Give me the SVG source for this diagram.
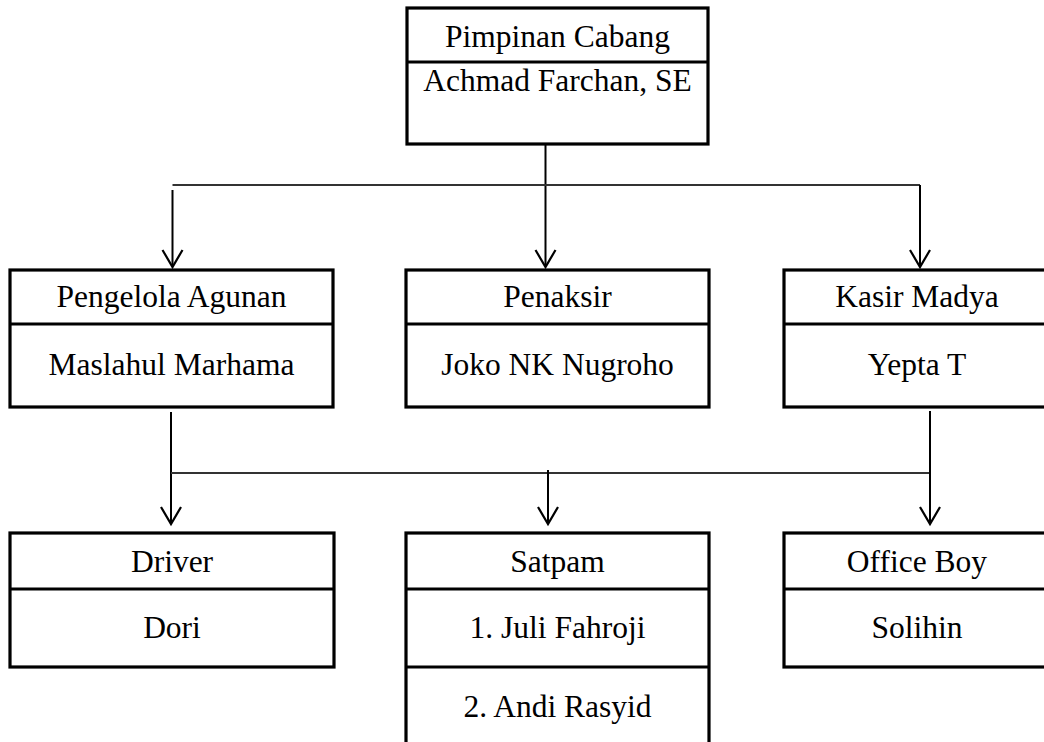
<svg xmlns="http://www.w3.org/2000/svg" width="1044" height="742" viewBox="0 0 1044 742">
<style>
.box{fill:#fff;stroke:#000;stroke-width:3.2}
.div{stroke:#000;stroke-width:3.2}
.t{font-family:"Liberation Serif","Times New Roman",serif;font-size:31.5px;fill:#000;text-anchor:middle}
.c{fill:none;stroke:#000;stroke-width:2}
.h{fill:none;stroke:#333;stroke-width:1.8}
.ah{fill:none;stroke:#000;stroke-width:2.2;stroke-linejoin:miter}
</style>
<rect width="1044" height="742" fill="#fff"/>
<g id="connectors">
<line class="c" x1="545.5" y1="140" x2="545.5" y2="266"/>
<line class="h" x1="172.5" y1="185" x2="920" y2="185"/>
<line class="c" x1="172.5" y1="190" x2="172.5" y2="266"/>
<line class="c" x1="920" y1="185" x2="920" y2="266"/>
<polyline class="ah" points="162.5,250 172.5,267 182.5,250"/>
<polyline class="ah" points="535.5,250 545.5,267 555.5,250"/>
<polyline class="ah" points="910,250 920,267 930,250"/>
<line class="c" x1="171" y1="412" x2="171" y2="523"/>
<line class="c" x1="930" y1="411" x2="930" y2="523"/>
<line class="h" x1="171" y1="473" x2="929" y2="473"/>
<line class="c" x1="548" y1="470" x2="548" y2="523"/>
<polyline class="ah" points="161,507 171,524 181,507"/>
<polyline class="ah" points="538,507 548,524 558,507"/>
<polyline class="ah" points="920,507 930,524 940,507"/>
</g>
<g id="pimpinan">
<rect class="box" x="407" y="8" width="301" height="136"/>
<line class="div" x1="407" y1="62" x2="708" y2="62"/>
<text class="t" x="557.5" y="47">Pimpinan Cabang</text>
<text class="t" x="557.5" y="91">Achmad Farchan, SE</text>
</g>
<g id="pengelola">
<rect class="box" x="10" y="270" width="323" height="137"/>
<line class="div" x1="10" y1="324" x2="333" y2="324"/>
<text class="t" x="171.5" y="307">Pengelola Agunan</text>
<text class="t" x="171.5" y="375">Maslahul Marhama</text>
</g>
<g id="penaksir">
<rect class="box" x="406" y="270" width="303" height="137"/>
<line class="div" x1="406" y1="324" x2="709" y2="324"/>
<text class="t" x="557.5" y="307">Penaksir</text>
<text class="t" x="557.5" y="375">Joko NK Nugroho</text>
</g>
<g id="kasir">
<rect class="box" x="784" y="270" width="266" height="137"/>
<line class="div" x1="784" y1="324" x2="1050" y2="324"/>
<text class="t" x="917" y="307">Kasir Madya</text>
<text class="t" x="917" y="375">Yepta T</text>
</g>
<g id="driver">
<rect class="box" x="10" y="533" width="324" height="134"/>
<line class="div" x1="10" y1="589" x2="334" y2="589"/>
<text class="t" x="172" y="572">Driver</text>
<text class="t" x="172" y="638">Dori</text>
</g>
<g id="satpam">
<rect class="box" x="406" y="533" width="303" height="220"/>
<line class="div" x1="406" y1="589" x2="709" y2="589"/>
<line class="div" x1="406" y1="667" x2="709" y2="667"/>
<text class="t" x="557.5" y="572">Satpam</text>
<text class="t" x="557.5" y="638">1. Juli Fahroji</text>
<text class="t" x="557.5" y="717">2. Andi Rasyid</text>
</g>
<g id="officeboy">
<rect class="box" x="784" y="533" width="266" height="134"/>
<line class="div" x1="784" y1="589" x2="1050" y2="589"/>
<text class="t" x="917" y="572">Office Boy</text>
<text class="t" x="917" y="638">Solihin</text>
</g>
</svg>
